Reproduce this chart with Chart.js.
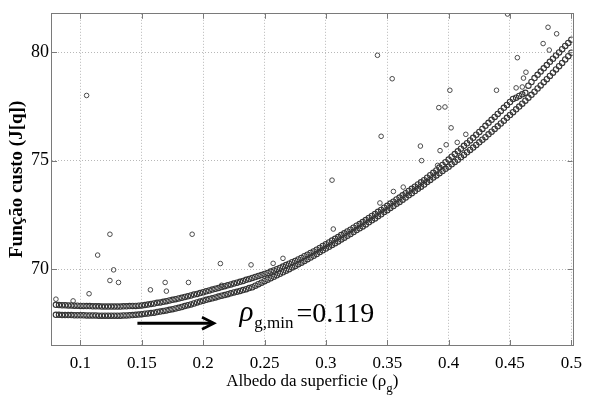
<!DOCTYPE html>
<html>
<head>
<meta charset="utf-8">
<script src="https://cdn.jsdelivr.net/npm/chart.js@4.4.1/dist/chart.umd.min.js"></script>
<style>
  html, body { margin: 0; padding: 0; background: #fff; }
  #wrap { width: 590px; height: 403px; }
</style>
</head>
<body>
<div id="wrap"><canvas id="chart" width="590" height="403"></canvas></div>
<script>
// albedo samples shared by both bands
const albedo = [
  0.08, 0.0825, 0.085, 0.0875, 0.09, 0.0925, 0.095, 0.0975,
  0.1, 0.1025, 0.105, 0.1075, 0.11, 0.1125, 0.115, 0.1175,
  0.12, 0.1225, 0.125, 0.1275, 0.13, 0.1325, 0.135, 0.1375,
  0.14, 0.1425, 0.145, 0.1475, 0.15, 0.1525, 0.155, 0.1575,
  0.16, 0.1625, 0.165, 0.1675, 0.17, 0.1725, 0.175, 0.1775,
  0.18, 0.1825, 0.185, 0.1875, 0.19, 0.1925, 0.195, 0.1975,
  0.2, 0.2025, 0.205, 0.2075, 0.21, 0.2125, 0.215, 0.2175,
  0.22, 0.2225, 0.225, 0.2275, 0.23, 0.2325, 0.235, 0.2375,
  0.24, 0.2425, 0.245, 0.2475, 0.25, 0.2525, 0.255, 0.2575,
  0.26, 0.2625, 0.265, 0.2675, 0.27, 0.2725, 0.275, 0.2775,
  0.28, 0.2825, 0.285, 0.2875, 0.29, 0.2925, 0.295, 0.2975,
  0.3, 0.3025, 0.305, 0.3075, 0.31, 0.3125, 0.315, 0.3175,
  0.32, 0.3225, 0.325, 0.3275, 0.33, 0.3325, 0.335, 0.3375,
  0.34, 0.3425, 0.345, 0.3475, 0.35, 0.3525, 0.355, 0.3575,
  0.36, 0.3625, 0.365, 0.3675, 0.37, 0.3725, 0.375, 0.3775,
  0.38, 0.3825, 0.385, 0.3875, 0.39, 0.3925, 0.395, 0.3975,
  0.4, 0.4025, 0.405, 0.4075, 0.41, 0.4125, 0.415, 0.4175,
  0.42, 0.4225, 0.425, 0.4275, 0.43, 0.4325, 0.435, 0.4375,
  0.44, 0.4425, 0.445, 0.4475, 0.45, 0.4525, 0.455, 0.4575,
  0.46, 0.4625, 0.465, 0.4675, 0.47, 0.4725, 0.475, 0.4775,
  0.48, 0.4825, 0.485, 0.4875, 0.49, 0.4925, 0.495, 0.4975,
  0.5
];

// upper band of the cost function
const custoSuperior = [
  68.36, 68.35, 68.34, 68.34, 68.33, 68.33, 68.32, 68.32,
  68.31, 68.31, 68.30, 68.30, 68.29, 68.29, 68.29, 68.28,
  68.28, 68.28, 68.28, 68.28, 68.28, 68.28, 68.29, 68.29,
  68.30, 68.31, 68.31, 68.32, 68.33, 68.35, 68.37, 68.40,
  68.42, 68.45, 68.47, 68.50, 68.53, 68.56, 68.59, 68.62,
  68.65, 68.68, 68.72, 68.75, 68.79, 68.83, 68.86, 68.90,
  68.94, 68.98, 69.02, 69.06, 69.10, 69.14, 69.18, 69.22,
  69.26, 69.30, 69.34, 69.38, 69.42, 69.46, 69.51, 69.55,
  69.60, 69.64, 69.69, 69.73, 69.78, 69.83, 69.89, 69.94,
  70.00, 70.06, 70.12, 70.19, 70.25, 70.32, 70.38, 70.45,
  70.52, 70.60, 70.67, 70.75, 70.82, 70.90, 70.98, 71.07,
  71.15, 71.23, 71.32, 71.40, 71.48, 71.57, 71.65, 71.74,
  71.82, 71.91, 72.00, 72.08, 72.17, 72.26, 72.36, 72.45,
  72.54, 72.64, 72.73, 72.83, 72.92, 73.02, 73.11, 73.21,
  73.30, 73.40, 73.50, 73.60, 73.70, 73.80, 73.90, 74.00,
  74.10, 74.21, 74.33, 74.44, 74.55, 74.68, 74.80, 74.93,
  75.05, 75.18, 75.30, 75.43, 75.55, 75.68, 75.80, 75.93,
  76.05, 76.19, 76.32, 76.46, 76.60, 76.74, 76.88, 77.01,
  77.15, 77.29, 77.43, 77.56, 77.70, 77.84, 77.90, 77.98,
  78.05, 78.12, 78.45, 78.62, 78.80, 78.95, 79.10, 79.25,
  79.40, 79.55, 79.69, 79.84, 79.98, 80.13, 80.28, 80.42,
  80.57
];

// lower band of the cost function
const custoInferior = [
  67.90, 67.90, 67.89, 67.89, 67.89, 67.89, 67.88, 67.88,
  67.88, 67.88, 67.87, 67.87, 67.87, 67.87, 67.86, 67.86,
  67.86, 67.86, 67.86, 67.86, 67.86, 67.86, 67.87, 67.87,
  67.88, 67.89, 67.90, 67.91, 67.93, 67.95, 67.96, 67.98,
  68.00, 68.03, 68.05, 68.08, 68.10, 68.13, 68.16, 68.19,
  68.22, 68.26, 68.30, 68.34, 68.38, 68.42, 68.47, 68.51,
  68.55, 68.59, 68.63, 68.66, 68.70, 68.74, 68.78, 68.81,
  68.85, 68.89, 68.93, 68.96, 69.00, 69.04, 69.08, 69.13,
  69.17, 69.24, 69.31, 69.38, 69.45, 69.52, 69.58, 69.65,
  69.72, 69.79, 69.86, 69.93, 70.00, 70.08, 70.15, 70.23,
  70.30, 70.38, 70.46, 70.54, 70.62, 70.70, 70.79, 70.87,
  70.95, 71.03, 71.12, 71.20, 71.28, 71.37, 71.45, 71.54,
  71.62, 71.71, 71.80, 71.88, 71.97, 72.06, 72.16, 72.25,
  72.34, 72.44, 72.53, 72.63, 72.72, 72.82, 72.91, 73.01,
  73.10, 73.20, 73.30, 73.40, 73.50, 73.60, 73.70, 73.80,
  73.90, 74.01, 74.11, 74.22, 74.32, 74.42, 74.52, 74.62,
  74.72, 74.83, 74.94, 75.04, 75.15, 75.26, 75.38, 75.49,
  75.60, 75.72, 75.84, 75.96, 76.08, 76.21, 76.33, 76.46,
  76.58, 76.71, 76.84, 76.97, 77.10, 77.23, 77.36, 77.49,
  77.62, 77.76, 77.90, 78.03, 78.17, 78.32, 78.46, 78.61,
  78.75, 78.90, 79.05, 79.20, 79.35, 79.50, 79.66, 79.81,
  79.97
];

// scattered evaluations away from the bands
const dispersosX = [
  0.080, 0.094, 0.105, 0.107, 0.114, 0.124, 0.124, 0.127, 0.131, 0.157,
  0.169, 0.170, 0.188, 0.191, 0.214, 0.215, 0.239, 0.257, 0.265, 0.305,
  0.306, 0.342, 0.344, 0.345, 0.354, 0.355, 0.363, 0.377, 0.378, 0.391,
  0.392, 0.393, 0.397, 0.398, 0.401, 0.402, 0.407, 0.414, 0.439, 0.448,
  0.455, 0.456, 0.460, 0.461, 0.463, 0.477, 0.481, 0.482, 0.488
];
const dispersosY = [
  68.62, 68.54, 78.00, 68.87, 70.65, 71.61, 69.48, 69.97, 69.39, 69.05,
  69.39, 68.99, 69.39, 71.61, 70.26, 69.26, 70.20, 70.27, 70.50, 74.10,
  71.85, 79.85, 73.05, 76.12, 78.77, 73.58, 73.78, 75.67, 75.00, 74.78,
  77.44, 75.46, 77.47, 75.73, 78.24, 76.51, 75.84, 76.21, 78.24, 81.75,
  78.35, 79.74, 78.39, 78.80, 79.07, 80.39, 81.14, 80.09, 80.84
];

const xTicks = [0.1, 0.15, 0.2, 0.25, 0.3, 0.35, 0.4, 0.45, 0.5];
const yTicks = [70, 75, 80];

// minimum marker: arrow span and label anchor (data units)
const rhoMin = 0.119;
const setaX = [0.1464, 0.2088];
const setaY = 67.51;
const rotuloX = 0.2295;
const rotuloY = 67.60;

const toPoints = (xs, ys) => xs.map((x, i) => ({ x: x, y: ys[i] }));

const SERIF = "'Liberation Serif', 'Times New Roman', serif";

const bandStyle = {
  pointRadius: 2.7,
  pointBorderWidth: 1.1,
  borderColor: '#363636',
  backgroundColor: 'rgba(0,0,0,0)',
  showLine: false
};
const looseStyle = {
  pointRadius: 2.3,
  pointBorderWidth: 1,
  borderColor: '#4a4a4a',
  backgroundColor: 'rgba(0,0,0,0)',
  showLine: false
};

// frame, inward tick marks, x title with subscript, and the minimum annotation
const extras = {
  id: 'extras',
  afterDraw(chart) {
    const ctx = chart.ctx;
    const a = chart.chartArea;
    const xs = chart.scales.x;
    const ys = chart.scales.y;
    ctx.save();

    // box
    ctx.strokeStyle = '#7a7a7a';
    ctx.lineWidth = 1;
    ctx.strokeRect(Math.round(a.left) - 0.5, Math.round(a.top) - 0.5,
      Math.round(a.right - a.left) + 1, Math.round(a.bottom - a.top) + 1);

    // ticks pointing inside
    ctx.beginPath();
    xTicks.forEach(v => {
      const px = Math.round(xs.getPixelForValue(v)) + 0.5;
      ctx.moveTo(px, a.bottom); ctx.lineTo(px, a.bottom - 5);
      ctx.moveTo(px, a.top); ctx.lineTo(px, a.top + 5);
    });
    yTicks.forEach(v => {
      const py = Math.round(ys.getPixelForValue(v)) + 0.5;
      ctx.moveTo(a.left, py); ctx.lineTo(a.left + 5, py);
      ctx.moveTo(a.right, py); ctx.lineTo(a.right - 5, py);
    });
    ctx.stroke();

    // x axis title: Albedo da superficie (ρ_g)
    ctx.fillStyle = '#000';
    ctx.textBaseline = 'alphabetic';
    const mainFont = '17px ' + SERIF;
    const subFont = '13px ' + SERIF;
    const t1 = 'Albedo da superficie (\u03c1';
    const t2 = 'g';
    const t3 = ')';
    ctx.font = mainFont;
    const w1 = ctx.measureText(t1).width;
    const w3 = ctx.measureText(t3).width;
    ctx.font = subFont;
    const w2 = ctx.measureText(t2).width;
    const cx = (a.left + a.right) / 2;
    const by = a.bottom + 41;
    let tx = cx - (w1 + w2 + w3) / 2;
    ctx.font = mainFont;
    ctx.textAlign = 'left';
    ctx.fillText(t1, tx, by);
    tx += w1;
    ctx.font = subFont;
    ctx.fillText(t2, tx, by + 6);
    tx += w2;
    ctx.font = mainFont;
    ctx.fillText(t3, tx, by);

    // arrow towards the minimum
    const x0 = xs.getPixelForValue(setaX[0]);
    const x1 = xs.getPixelForValue(setaX[1]);
    const yA = ys.getPixelForValue(setaY);
    ctx.strokeStyle = '#000';
    ctx.lineWidth = 3;
    ctx.lineCap = 'butt';
    ctx.beginPath();
    ctx.moveTo(x0, yA); ctx.lineTo(x1 - 1, yA);
    ctx.stroke();
    ctx.lineWidth = 2.6;
    ctx.beginPath();
    ctx.moveTo(x1 - 12, yA - 6);
    ctx.lineTo(x1, yA);
    ctx.lineTo(x1 - 12, yA + 6);
    ctx.stroke();

    // label ρ_{g,min}=0.119
    const lx = xs.getPixelForValue(rotuloX);
    const ly = ys.getPixelForValue(rotuloY);
    ctx.font = 'italic 29px ' + SERIF;
    ctx.fillText('\u03c1', lx, ly);
    const wr = ctx.measureText('\u03c1').width;
    ctx.font = '17px ' + SERIF;
    ctx.fillText('g,min', lx + wr + 1, ly + 7);
    const ws = ctx.measureText('g,min').width;
    ctx.font = '28px ' + SERIF;
    ctx.fillText('=' + rhoMin.toFixed(3), lx + wr + ws + 4, ly + 1);

    ctx.restore();
  }
};

const gridOpts = { color: '#b8b8b8', lineWidth: 1, drawTicks: false };

new Chart(document.getElementById('chart'), {
  type: 'scatter',
  data: {
    datasets: [
      Object.assign({ label: 'superior', data: toPoints(albedo, custoSuperior) }, bandStyle),
      Object.assign({ label: 'inferior', data: toPoints(albedo, custoInferior) }, bandStyle),
      Object.assign({ label: 'dispersos', data: toPoints(dispersosX, dispersosY) }, looseStyle)
    ]
  },
  options: {
    responsive: false,
    animation: false,
    devicePixelRatio: 1,
    layout: { padding: { top: 7, right: 8, left: 0, bottom: 0 } },
    plugins: { legend: { display: false }, tooltip: { enabled: false } },
    scales: {
      x: {
        type: 'linear',
        min: 0.0768,
        max: 0.501,
        afterBuildTicks: s => { s.ticks = xTicks.map(v => ({ value: v })); },
        afterFit: s => { s.height = 58; },
        grid: gridOpts,
        border: { display: false, dash: [1, 2] },
        ticks: {
          color: '#000',
          font: { family: SERIF, size: 17 },
          padding: 8,
          maxRotation: 0,
          autoSkip: false,
          callback: v => String(+v.toFixed(2))
        }
      },
      y: {
        min: 66.51,
        max: 81.76,
        afterBuildTicks: s => { s.ticks = yTicks.map(v => ({ value: v })); },
        afterFit: s => { s.width = 52; },
        grid: gridOpts,
        border: { display: false, dash: [1, 2] },
        ticks: {
          color: '#000',
          font: { family: SERIF, size: 18 },
          padding: 3,
          callback: v => String(v)
        },
        title: {
          display: true,
          text: 'Função custo (J[q])',
          color: '#000',
          font: { family: SERIF, size: 19, weight: 'bold' },
          padding: { top: 6, bottom: 0 }
        }
      }
    }
  },
  plugins: [extras]
});
</script>
</body>
</html>
